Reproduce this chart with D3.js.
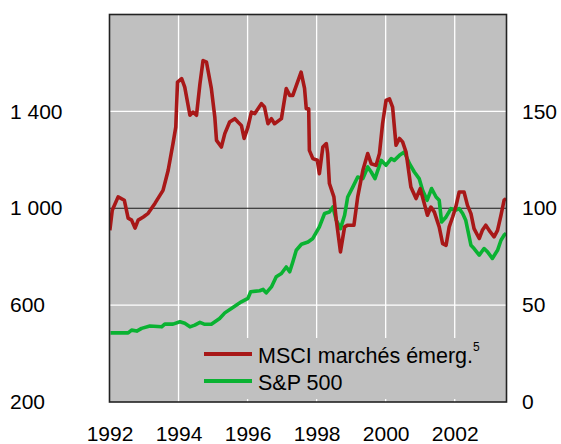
<!DOCTYPE html>
<html>
<head>
<meta charset="utf-8">
<script src="https://cdn.jsdelivr.net/npm/d3@7"></script>
<style>
  body { margin: 0; background: #fff; }
  svg { display: block; font-family: "Liberation Sans", Arial, sans-serif; }
</style>
</head>
<body>
<svg id="chart" width="561" height="444"></svg>
<script>
// MSCI emerging markets (left axis)
const msciDates = [1992.01, 1992.08, 1992.25, 1992.43, 1992.54, 1992.64, 1992.74, 1992.83, 1992.98, 1993.12,
  1993.32, 1993.55, 1993.70, 1993.84, 1993.92, 1993.97, 1994.09, 1994.18, 1994.33, 1994.42,
  1994.52, 1994.62, 1994.71, 1994.81, 1994.95, 1995.05, 1995.10, 1995.24, 1995.34, 1995.48,
  1995.63, 1995.72, 1995.82, 1995.90, 1996.01, 1996.11, 1996.21, 1996.40, 1996.49, 1996.59,
  1996.69, 1996.78, 1996.98, 1997.12, 1997.22, 1997.31, 1997.55, 1997.65, 1997.70, 1997.77,
  1997.79, 1997.89, 1998.02, 1998.08, 1998.18, 1998.28, 1998.32, 1998.37, 1998.50, 1998.57,
  1998.69, 1998.81, 1998.90, 1999.08, 1999.19, 1999.34, 1999.48, 1999.58, 1999.72, 1999.82,
  1999.91, 2000.01, 2000.11, 2000.20, 2000.30, 2000.40, 2000.49, 2000.59, 2000.73, 2000.88,
  2001.00, 2001.12, 2001.21, 2001.31, 2001.41, 2001.55, 2001.65, 2001.75, 2001.84, 2001.94,
  2002.03, 2002.13, 2002.27, 2002.37, 2002.47, 2002.56, 2002.71, 2002.80, 2002.90, 2003.03,
  2003.14, 2003.24, 2003.34, 2003.43, 2003.49];
const msciValues = [909, 992, 1047, 1033, 959, 951, 918, 951, 964, 979,
  1021, 1074, 1157, 1268, 1335, 1521, 1535, 1500, 1384, 1397,
  1384, 1514, 1610, 1603, 1495, 1377, 1280, 1253, 1308, 1356,
  1370, 1356, 1342, 1288, 1335, 1397, 1391, 1432, 1418, 1349,
  1370, 1349, 1370, 1494, 1466, 1466, 1562, 1495, 1411, 1411,
  1239, 1205, 1198, 1143, 1253, 1267, 1226, 1102, 1047, 951,
  820, 923, 930, 930, 1047, 1157, 1226, 1184, 1177, 1226,
  1349, 1445, 1452, 1418, 1260, 1288, 1274, 1232, 1088, 1040,
  1081, 1019, 971, 1005, 984, 923, 854, 847, 923, 964,
  1005, 1067, 1067, 1012, 978, 916, 875, 909, 930, 902,
  882, 909, 971, 1033, 1040];

// S&P 500 (right axis)
const spDates = [1992.03, 1992.54, 1992.64, 1992.79, 1992.93, 1993.17, 1993.51, 1993.60, 1993.84, 1994.04,
  1994.18, 1994.33, 1994.47, 1994.62, 1994.76, 1994.95, 1995.19, 1995.34, 1995.53, 1995.82,
  1996.01, 1996.09, 1996.35, 1996.45, 1996.54, 1996.69, 1996.83, 1996.98, 1997.12, 1997.22,
  1997.31, 1997.41, 1997.56, 1997.75, 1997.89, 1998.08, 1998.23, 1998.37, 1998.47, 1998.57,
  1998.69, 1998.81, 1998.90, 1999.05, 1999.19, 1999.34, 1999.48, 1999.58, 1999.69, 1999.87,
  2000.01, 2000.16, 2000.25, 2000.40, 2000.54, 2000.69, 2000.83, 2000.97, 2001.07, 2001.20,
  2001.33, 2001.46, 2001.55, 2001.62, 2001.75, 2001.89, 2002.03, 2002.13, 2002.23, 2002.32,
  2002.47, 2002.56, 2002.71, 2002.85, 2002.95, 2003.09, 2003.24, 2003.34, 2003.43, 2003.49];
const spValues = [35.7, 35.7, 37.1, 36.6, 38.0, 39.2, 38.8, 40.2, 40.2, 41.4,
  40.6, 38.8, 39.7, 41.1, 40.1, 40.1, 43.1, 46.0, 48.3, 51.7,
  53.5, 56.9, 57.4, 58.1, 56.3, 59.4, 64.6, 66.3, 69.7, 67.2,
  72.3, 78.3, 81.4, 82.6, 84.4, 90.4, 97.3, 98.1, 100.7, 93.8,
  89.5, 96.4, 105.8, 111.0, 116.1, 115.3, 121.3, 118.7, 115.3, 124.7,
  122.2, 125.6, 124.7, 127.3, 129.0, 123.0, 118.7, 115.3, 109.3, 104.1,
  110.2, 105.8, 104.1, 92.9, 95.5, 99.8, 99.0, 99.8, 97.3, 93.8,
  80.9, 79.2, 75.8, 79.2, 77.5, 74.1, 78.3, 83.5, 86.1, 87.1];

const xTicks = [1992, 1994, 1996, 1998, 2000, 2002];
const leftTicks = [200, 600, 1000, 1400];
const rightTicks = [0, 50, 100, 150];
const legendLabels = ["MSCI marchés émerg.", "S&P 500"];

const red = "#a81818";
const green = "#0ab232";
const plot = { left: 109.5, right: 506.5, top: 14.5, bottom: 402 };

const svg = d3.select("#chart");

const x = d3.scaleLinear().domain([1992, 2003.5]).range([plot.left, plot.right]);
const yLeft = d3.scaleLinear().domain([200, 1800]).range([plot.bottom, plot.top]);
const yRight = d3.scaleLinear().domain([0, 200]).range([plot.bottom, plot.top]);

svg.append("rect")
  .attr("x", plot.left).attr("y", plot.top)
  .attr("width", plot.right - plot.left).attr("height", plot.bottom - plot.top)
  .attr("fill", "#c0c0c0");

svg.append("defs").append("clipPath").attr("id", "clip")
  .append("rect")
  .attr("x", plot.left).attr("y", plot.top)
  .attr("width", plot.right - plot.left).attr("height", plot.bottom - plot.top);

// grid
svg.append("g")
  .selectAll("line")
  .data(xTicks.slice(1))
  .join("line")
  .attr("x1", d => x(d)).attr("x2", d => x(d))
  .attr("y1", plot.top).attr("y2", plot.bottom)
  .attr("stroke", "#fff").attr("stroke-width", 1.3);

svg.append("g")
  .selectAll("line")
  .data([600, 1400])
  .join("line")
  .attr("x1", plot.left).attr("x2", plot.right)
  .attr("y1", d => yLeft(d)).attr("y2", d => yLeft(d))
  .attr("stroke", "#fff").attr("stroke-width", 1.3);

svg.append("line")
  .attr("x1", plot.left).attr("x2", plot.right)
  .attr("y1", yLeft(1000)).attr("y2", yLeft(1000))
  .attr("stroke", "#1a1a1a").attr("stroke-width", 1.2);

// legend box covers grid
svg.append("rect")
  .attr("x", 192).attr("y", 338)
  .attr("width", plot.right - 193).attr("height", 61)
  .attr("fill", "#c0c0c0");

const lineMsci = d3.line()
  .x((d, i) => x(msciDates[i]))
  .y(d => yLeft(d));
const lineSp = d3.line()
  .x((d, i) => x(spDates[i]))
  .y(d => yRight(d));

const lines = svg.append("g").attr("clip-path", "url(#clip)");
lines.append("path")
  .datum(spValues)
  .attr("d", lineSp)
  .attr("fill", "none").attr("stroke", green)
  .attr("stroke-width", 3.6).attr("stroke-linejoin", "round");
lines.append("path")
  .datum(msciValues)
  .attr("d", lineMsci)
  .attr("fill", "none").attr("stroke", red)
  .attr("stroke-width", 3.6).attr("stroke-linejoin", "round");

// frame
svg.append("rect")
  .attr("x", plot.left).attr("y", plot.top)
  .attr("width", plot.right - plot.left).attr("height", plot.bottom - plot.top)
  .attr("fill", "none").attr("stroke", "#222").attr("stroke-width", 1.6);

// axes
const fmt = d => d3.format(",")(d).replace(",", " ");

const axL = svg.append("g")
  .attr("transform", `translate(${plot.left},0)`)
  .call(d3.axisLeft(yLeft).tickValues(leftTicks).tickFormat(fmt).tickSize(0));
axL.select(".domain").remove();
axL.selectAll("text")
  .attr("x", 10 - plot.left).attr("text-anchor", "start")
  .style("font-size", "21px").attr("fill", "#000");

const axR = svg.append("g")
  .attr("transform", `translate(${plot.right},0)`)
  .call(d3.axisRight(yRight).tickValues(rightTicks).tickSize(0));
axR.select(".domain").remove();
axR.selectAll("text")
  .attr("x", 522 - plot.right)
  .style("font-size", "21px").attr("fill", "#000");

const axB = svg.append("g")
  .attr("transform", `translate(0,${plot.bottom})`)
  .call(d3.axisBottom(x).tickValues(xTicks).tickFormat(d3.format("d")).tickSize(0).tickPadding(24));
axB.select(".domain").remove();
axB.selectAll("text").style("font-size", "21px").attr("fill", "#000");

svg.selectAll(".tick text").style("font-family", "'Liberation Sans', Arial, sans-serif");

// legend
const legend = svg.append("g");
const items = legend.selectAll("g")
  .data(legendLabels)
  .join("g")
  .attr("transform", (d, i) => `translate(204,${354 + i * 27})`);
items.append("line")
  .attr("x1", 0).attr("x2", 48)
  .attr("stroke", (d, i) => i === 0 ? red : green)
  .attr("stroke-width", 4);
items.append("text")
  .attr("x", 54).attr("y", 9)
  .style("font-size", "21.5px")
  .text(d => d);
legend.append("text")
  .attr("x", 473).attr("y", 351)
  .style("font-size", "12px")
  .text("5");
</script>
</body>
</html>
